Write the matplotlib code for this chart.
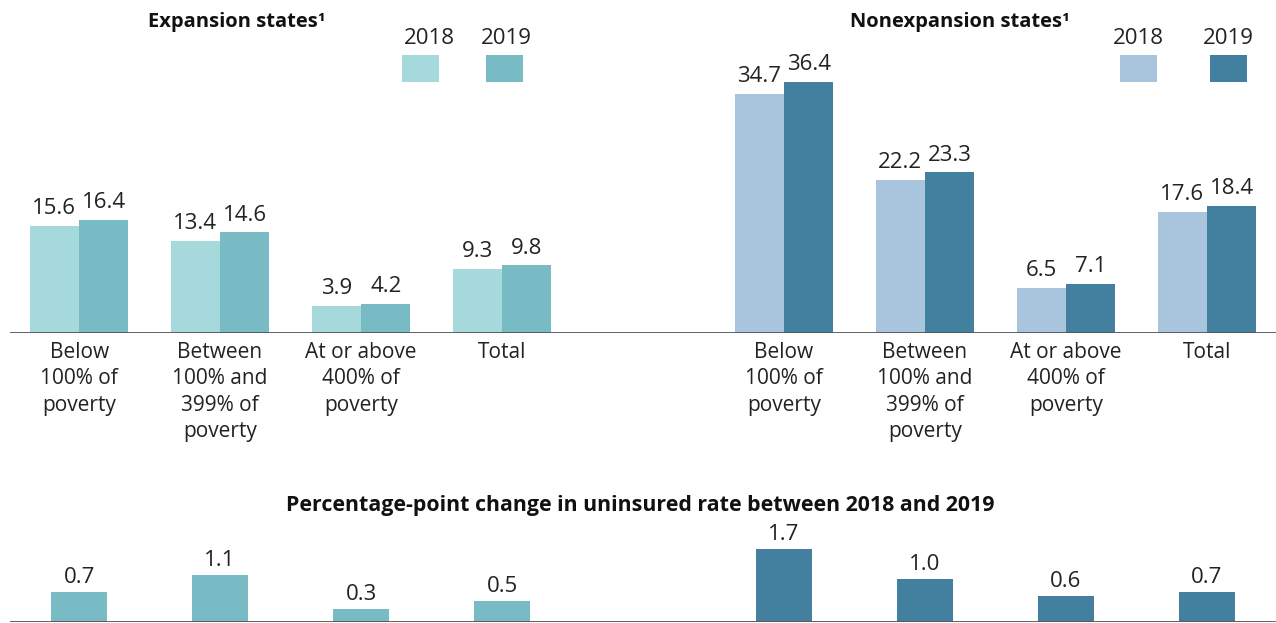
import numpy as np
import matplotlib
matplotlib.use("Agg")
import matplotlib.pyplot as plt
from matplotlib.patches import Rectangle

plt.rcParams["font.family"] = ["Open Sans", "DejaVu Sans"]

# data
groups = ["Below\n100% of\npoverty", "Between\n100% and\n399% of\npoverty",
          "At or above\n400% of\npoverty", "Total"]
years = ["2018", "2019"]
exp_2018 = [15.6, 13.4, 3.9, 9.3]
exp_2019 = [16.4, 14.6, 4.2, 9.8]
nonexp_2018 = [34.7, 22.2, 6.5, 17.6]
nonexp_2019 = [36.4, 23.3, 7.1, 18.4]
exp_change = [0.7, 1.1, 0.3, 0.5]
nonexp_change = [1.7, 1.0, 0.6, 0.7]

# colors
EXP_LIGHT, EXP_DARK = "#a5d9dc", "#79bbc4"
NON_LIGHT, NON_DARK = "#a9c5dd", "#43809f"
AXIS_GRAY = "#555555"
TXT = "#222222"
FS_VAL = 16
FS_CAT = 15

W, H = 1276, 623
fig = plt.figure(figsize=(W / 100, H / 100), dpi=100)


def fx(px):
    return px / W


def fy(py):
    return 1 - py / H


x_exp = np.arange(4)
x_non = np.arange(4) + 5
bw = 0.35
XLIM = (-0.49, 8.49)

# 1) top panel: uninsured rates
ax = fig.add_axes([fx(10), fy(333), fx(1266), 333 / H])
ax.set_xlim(*XLIM)
ax.set_ylim(0, 333 / 6.89)

for xs, v18, v19, c18, c19 in [(x_exp, exp_2018, exp_2019, EXP_LIGHT, EXP_DARK),
                               (x_non, nonexp_2018, nonexp_2019, NON_LIGHT, NON_DARK)]:
    b1 = ax.bar(xs - bw / 2, v18, bw, color=c18)
    b2 = ax.bar(xs + bw / 2, v19, bw, color=c19)
    for bars, vals in [(b1, v18), (b2, v19)]:
        for b, v in zip(bars, vals):
            ax.text(b.get_x() + b.get_width() / 2, v + 1.0, f"{v:.1f}",
                    ha="center", va="bottom", fontsize=FS_VAL, color=TXT)
    for x, g in zip(xs, groups):
        ax.text(x, -1.3, g, ha="center", va="top", fontsize=FS_CAT,
                color=TXT, linespacing=1.34)

ax.axhline(0, color=AXIS_GRAY, lw=1.3)
ax.axis("off")

# 2) bottom panel: percentage-point change
ax2 = fig.add_axes([fx(10), fy(622), fx(1266), 100 / H])
ax2.set_xlim(*XLIM)
ax2.set_ylim(0, 100 / 43.0)
bw2 = 0.40
ax2.bar(x_exp, exp_change, bw2, color=EXP_DARK)
ax2.bar(x_non, nonexp_change, bw2, color=NON_DARK)
for xs, vals in [(x_exp, exp_change), (x_non, nonexp_change)]:
    for x, v in zip(xs, vals):
        ax2.text(x, v + 0.09, f"{v:.1f}", ha="center", va="bottom",
                 fontsize=FS_VAL, color=TXT)
ax2.axhline(0, color=AXIS_GRAY, lw=1.3)
ax2.axis("off")

# 3) titles
fig.text(fx(237), fy(22), "Expansion states\u00b9", ha="center", va="center",
         fontsize=14.5, fontweight="bold", color="#111111")
fig.text(fx(960), fy(22), "Nonexpansion states\u00b9", ha="center", va="center",
         fontsize=14.5, fontweight="bold", color="#111111")
fig.text(fx(640), fy(505), "Percentage-point change in uninsured rate between 2018 and 2019",
         ha="center", va="center", fontsize=15.4, fontweight="bold", color="#111111")

# 4) legends (year label above a square swatch)
# (swatch left px, label centre px, colour)
legend_spots = [(402, 429, EXP_LIGHT), (486, 506, EXP_DARK),
                (1120, 1138, NON_LIGHT), (1210, 1228, NON_DARK)]
for i, (sx, tx, c) in enumerate(legend_spots):
    fig.add_artist(Rectangle((fx(sx), fy(82)), 37 / W, 27 / H,
                             transform=fig.transFigure, color=c, lw=0))
    fig.text(fx(tx), fy(39), years[i % 2], ha="center", va="center",
             fontsize=FS_VAL, color=TXT)

fig.savefig("out.png", dpi=100)
